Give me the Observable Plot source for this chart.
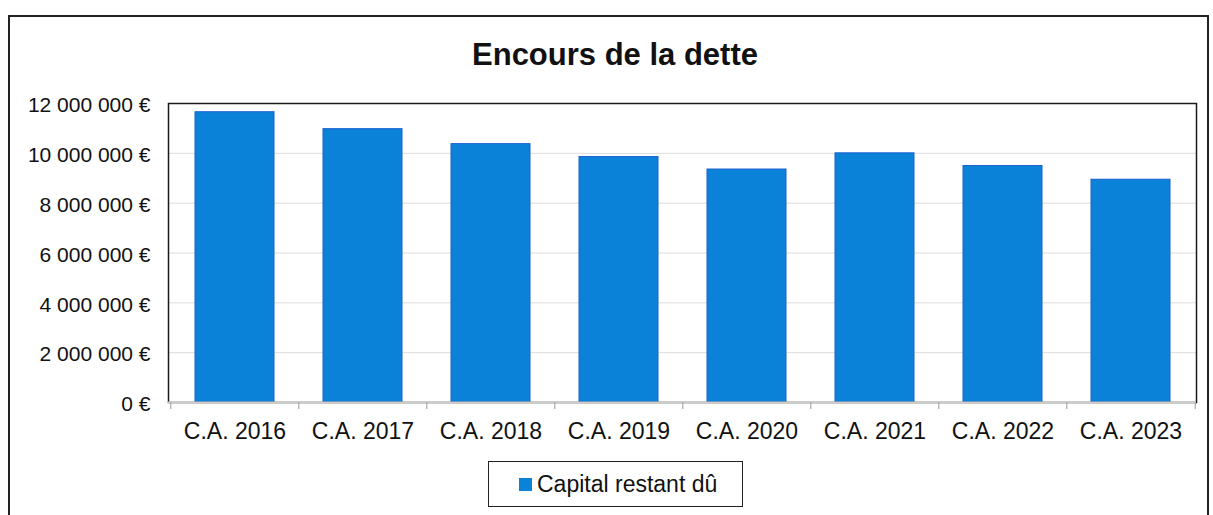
<!DOCTYPE html>
<html>
<head>
<meta charset="utf-8">
<script src="https://cdn.jsdelivr.net/npm/d3@7"></script>
<script src="https://cdn.jsdelivr.net/npm/@observablehq/plot@0.6"></script>
<style>
  html, body { margin: 0; padding: 0; background: #fff; overflow: hidden; }
  #wrap { position: relative; width: 1213px; height: 515px; font-family: "Liberation Sans", Arial, sans-serif; color: #111; }
  #outer { position: absolute; left: 8px; top: 15px; width: 1201px; height: 540px; border: 2px solid #222; box-sizing: border-box; }
  #title { position: absolute; left: 315px; width: 600px; top: 37px; line-height: 36px; text-align: center; font-weight: bold; font-size: 31px; }
  #chart { position: absolute; left: 0; top: 0; }
  #legend { position: absolute; left: 488px; top: 461px; width: 255px; height: 46px; box-sizing: border-box; border: 1.5px solid #222; background: #fff; display: flex; align-items: center; padding-left: 30px; font-size: 23px; }
  #legend .sw { display: inline-block; width: 13px; height: 13px; margin-right: 5px; }
</style>
</head>
<body>
<div id="wrap">
  <div id="outer"></div>
  <div id="chart"></div>
  <div id="title"></div>
  <div id="legend"></div>
</div>
<script>
const chartTitle = "Encours de la dette";
const seriesName = "Capital restant dû";
const categories = ["C.A. 2016", "C.A. 2017", "C.A. 2018", "C.A. 2019", "C.A. 2020", "C.A. 2021", "C.A. 2022", "C.A. 2023"];
const values = [11650000, 10970000, 10370000, 9850000, 9350000, 10000000, 9490000, 8940000];
const yTicks = [0, 2000000, 4000000, 6000000, 8000000, 10000000, 12000000];
const barColor = "#0a82d8";

const data = categories.map((c, i) => ({cat: c, value: values[i]}));

const W = 1213, H = 515, ML = 168, MR = 17, MT = 103, MB = 113;
const step = (W - ML - MR) / categories.length;

const loc = d3.formatLocale({decimal: ",", thousands: " ", grouping: [3], currency: ["", " €"]});
const fmt = d => loc.format(",")(d) + " €";

const chart = Plot.plot({
  width: W, height: H,
  marginLeft: ML, marginRight: MR, marginTop: MT, marginBottom: MB,
  style: {fontFamily: "'Liberation Sans', Arial, sans-serif", background: "transparent", color: "#111", overflow: "visible"},
  x: {domain: categories, paddingInner: 0.385, paddingOuter: 0.1925, label: null},
  y: {domain: [0, 12000000], label: null},
  marks: [
    Plot.gridY(yTicks.slice(1, -1), {stroke: "#dcdcdc", strokeOpacity: 1, strokeWidth: 1}),
    Plot.barY(data, {x: "cat", y: "value", fill: barColor, stroke: "#1a5fd0", strokeWidth: 1}),
    Plot.frame({stroke: "#1a1a1a", strokeWidth: 1.5}),
    Plot.ruleY([0], {stroke: "#cfcfcf", strokeWidth: 2}),
    Plot.ruleX(categories, {x: d => d, y1: 0, y2: 0, insetBottom: -7, dx: -step / 2, stroke: "#aaa", strokeWidth: 1.2}),
    Plot.ruleX(categories.slice(-1), {x: d => d, y1: 0, y2: 0, insetBottom: -7, dx: step / 2, stroke: "#aaa", strokeWidth: 1.2}),
    Plot.axisY(yTicks, {tickSize: 0, tickPadding: 18, tickFormat: fmt, fontSize: 21, dy: 2}),
    Plot.axisX({tickSize: 0, tickPadding: 20, fontSize: 23})
  ]
});
document.getElementById("chart").appendChild(chart);
document.getElementById("title").textContent = chartTitle;
const lg = document.getElementById("legend");
const sw = document.createElement("span");
sw.className = "sw";
sw.style.background = barColor;
lg.appendChild(sw);
lg.appendChild(document.createTextNode(seriesName));
</script>
</body>
</html>
